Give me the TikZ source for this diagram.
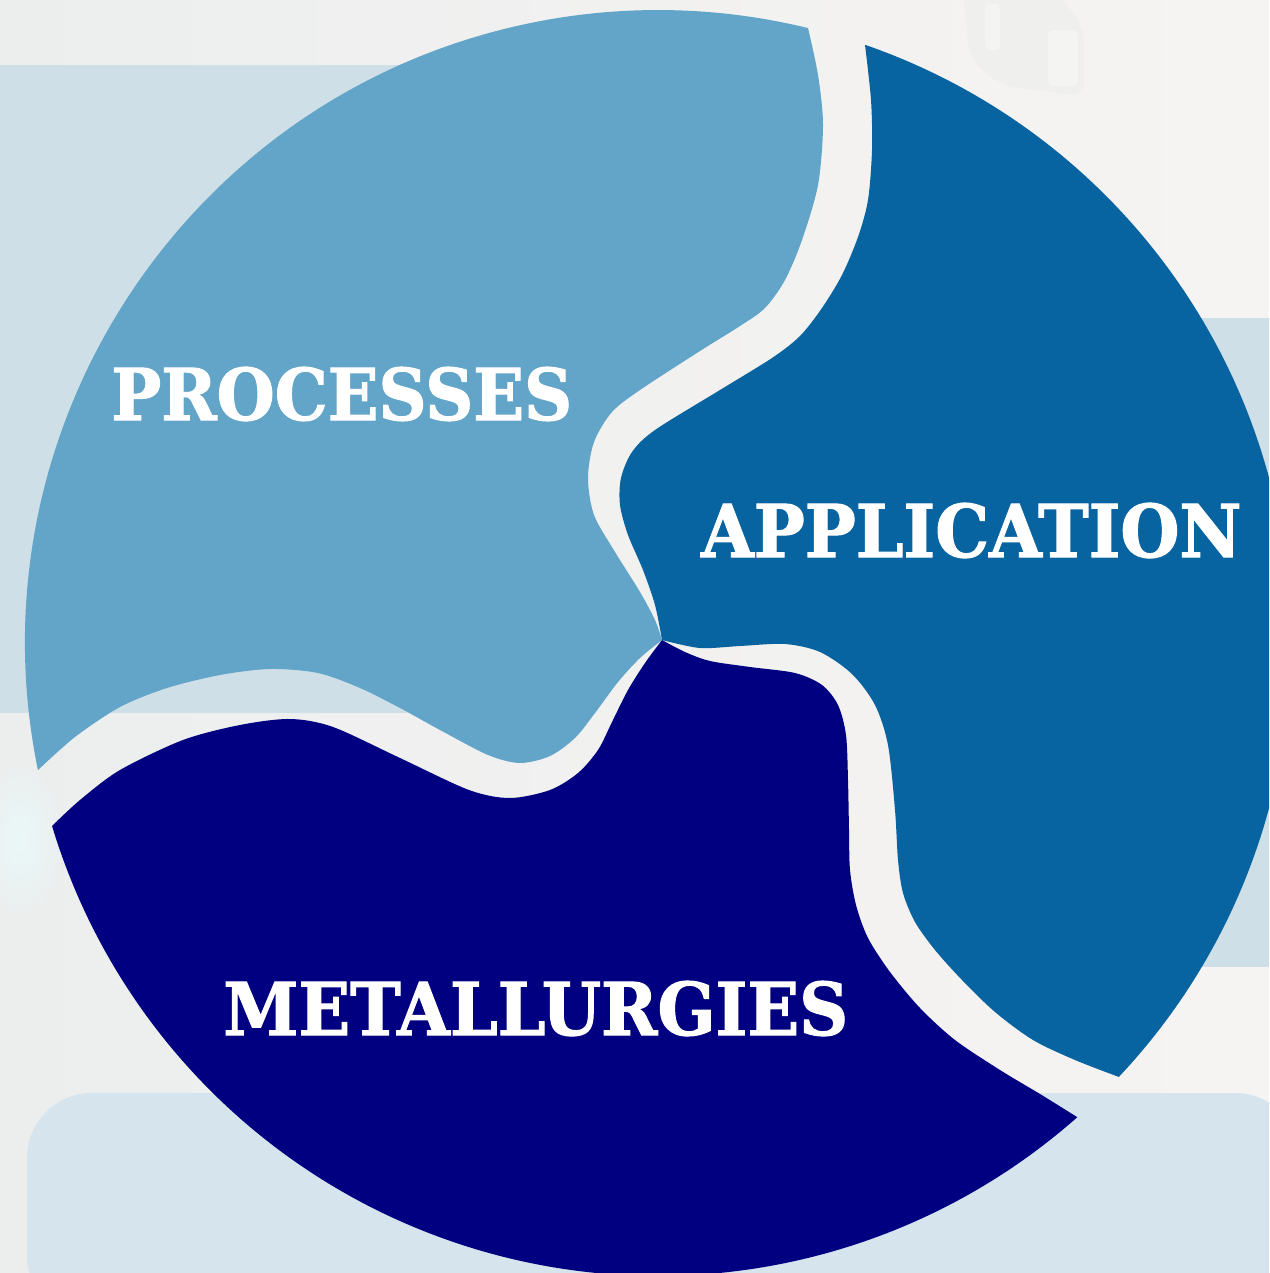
\documentclass[tikz,border=0pt]{standalone}
\usepackage{fontspec}
\setmainfont{DejaVu Serif}
\newfontfamily\labelfont{DejaVu Serif}[BoldFeatures={FakeBold=1.6}]
\usepackage{graphicx}
\definecolor{bgleft}{HTML}{ECEEEE}
\definecolor{bgright}{HTML}{F6F4F2}
\definecolor{panelblue}{HTML}{CFDFE7}
\definecolor{panellight}{HTML}{D5E4ED}
\definecolor{procblue}{HTML}{62A5C8}
\definecolor{appblue}{HTML}{0864A0}
\definecolor{metnavy}{HTML}{000080}
\begin{document}
\begin{tikzpicture}[x=1pt,y=-1pt,
  piecelabel/.style={text=white, inner sep=0pt, anchor=base west, font=\labelfont\bfseries}]
\useasboundingbox (0,0) rectangle (1269,1273);
\begin{scope}
\clip (0,0) rectangle (1269,1273);
% backdrop
\shade[left color=bgleft, right color=bgright] (0,0) rectangle (1269,1273);
\fill[panelblue] (0,65) rectangle (560,713);
\fill[panelblue] (1000,318) rectangle (1269,967);
\fill[panellight, rounded corners=65pt] (27,1093) rectangle (1300,1320);
% faint lamp in the backdrop
\fill[gray!16, opacity=0.45, rounded corners=14pt] (962,-20) -- (1048,-20) -- (1084,28)
  -- (1084,96) -- (1002,86) -- (970,60) -- cycle;
\fill[white, opacity=0.35, rounded corners=6pt] (1048,30) rectangle (1078,86);
\fill[white, opacity=0.35, rounded corners=5pt] (985,4) rectangle (1000,50);
% soft glow at the left edge
\shade[inner color=white!85!cyan!60!white, outer color=bgleft, opacity=0.6] (20,840) ellipse (45 and 80);

\coordinate (ctr) at (658,643);
\coordinate (hub) at (662,640);

% PROCESSES piece
\fill[procblue] ([shift={(168.4:633)}]ctr) arc[start angle=168.4, end angle=283.7, radius=633]
  -- plot[smooth] coordinates {(808,28) (818,75) (823,125) (818,185) (802,240) (785,280)
     (765,308) (740,326) (700,351) (640,390) (612,412) (594,442) (588,478) (594,515)
     (615,552) (640,592) (655,620) (662,640)}
  -- plot[smooth] coordinates {(662,640) (640,658) (618,682) (595,713) (575,738)
     (550,756) (520,763) (488,755) (440,730) (400,708) (360,688) (318,673)
     (270,669) (220,675) (167,688) (120,707) (75,737) (38,770)}
  -- cycle;

% APPLICATION piece
\fill[appblue] ([shift={(-70.9:633)}]ctr) arc[start angle=-70.9, end angle=43.3, radius=633]
  -- plot[smooth] coordinates {(1119,1077) (1075,1060) (1033,1040) (995,1012) (962,980)
     (935,950) (915,922) (903,893) (898,860) (895,810) (888,745) (875,705) (852,674)
     (820,652) (785,644) (740,646) (700,648) (662,640)}
  -- plot[smooth] coordinates {(662,640) (655,605) (643,570) (628,535) (620,505)
     (621,478) (632,452) (655,430) (720,390) (772,358) (800,336) (822,308) (842,275)
     (858,237) (868,200) (872,150) (871,100) (865,45)}
  -- cycle;

% METALLURGIES piece
\fill[metnavy] ([shift={(48.5:633)}]ctr) arc[start angle=48.5, end angle=163.2, radius=633]
  -- plot[smooth] coordinates {(52,826) (80,800) (120,770) (183,740) (240,725) (290,719)
     (333,727) (400,758) (469,790) (510,798) (550,790) (578,773) (598,750) (612,722)
     (628,690) (645,663) (662,640)}
  -- plot[smooth] coordinates {(662,640) (685,652) (710,661) (750,667) (795,673)
     (822,685) (838,705) (846,735) (848,780) (849,830) (850,870) (856,905) (868,938)
     (890,972) (920,1008) (955,1040) (1000,1070) (1040,1094) (1077,1117)}
  -- cycle;

% labels
\node[piecelabel] (proc) at (111,420) {\resizebox{461pt}{53pt}{PROCESSES}};
\node[piecelabel] (app) at (701,557) {\resizebox{540pt}{54pt}{APPLICATION}};
\node[piecelabel] (met) at (223,1035) {\resizebox{625pt}{54pt}{METALLURGIES}};
\end{scope}
\end{tikzpicture}
\end{document}
